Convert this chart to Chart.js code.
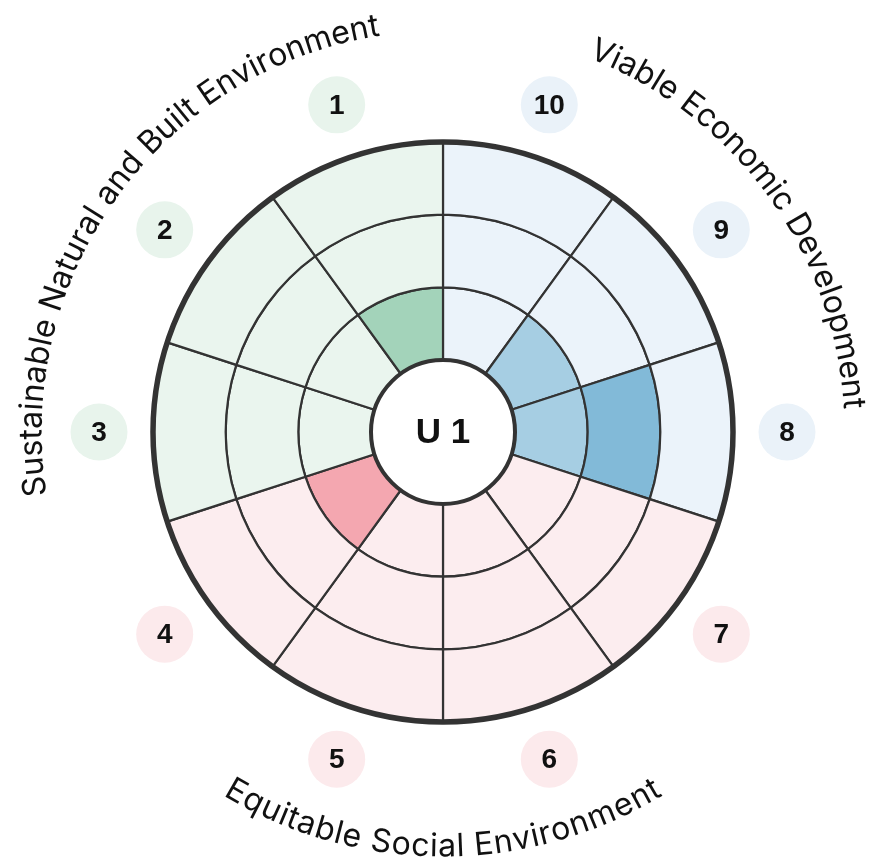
<!DOCTYPE html>
<html>
<head>
<meta charset="utf-8">
<script src="https://cdn.jsdelivr.net/npm/chart.js@4.4.1/dist/chart.umd.min.js"></script>
<style>
html,body{margin:0;padding:0;background:#ffffff;}
#wrap{width:870px;height:866px;position:relative;}
</style>
</head>
<body>
<div id="wrap"><canvas id="c"></canvas></div>
<script>
// ---- data ----
const criteria = ['1','2','3','4','5','6','7','8','9','10'];
const criterionGroup = [0,0,0,1,1,1,1,2,2,2];
const scores = [1,0,0,1,0,0,0,2,1,0];
const levels = 3;
const groupNames = ['Sustainable Natural and Built Environment','Equitable Social Environment','Viable Economic Development'];
const centerLabel = 'U 1';

// ---- styles ----
const groupBase = ['#EAF5EE','#FCEDEF','#EBF3FA'];
const groupLevelColors = [
  ['#A3D3BA','#7DC3A0','#57B286'],
  ['#F4A7B0','#EE8491','#E66172'],
  ['#A6CEE3','#82BAD8','#5FA5CC']
];
const badgeColors = ['#E8F4EC','#FCEAEC','#EAF2F9'];

// clockwise from top: 10, 9, ..., 1
const order = criteria.map((_, i) => criteria.length - 1 - i);

function cellColor(i, level) {
  const g = criterionGroup[i];
  return scores[i] >= level ? groupLevelColors[g][level - 1] : groupBase[g];
}

const datasets = [];
for (let L = levels; L >= 1; L--) {
  datasets.push({
    label: 'Level ' + L,
    data: order.map(() => 1),
    backgroundColor: order.map(i => cellColor(i, L)),
    borderColor: '#333333',
    borderWidth: 2.2,
    hoverOffset: 0
  });
}

function arcText(ctx, text, cx, cy, rMid, aCenter, bottom, capH, spacing) {
  const chars = Array.from(text);
  const widths = chars.map(ch => ctx.measureText(ch).width + spacing);
  const total = widths.reduce((s, w) => s + w, 0) - spacing;
  let adv = 0;
  chars.forEach((ch, k) => {
    const w = widths[k] - spacing;
    const d = (adv + w / 2) / rMid;
    const a = bottom ? aCenter + total / (2 * rMid) - d : aCenter - total / (2 * rMid) + d;
    ctx.save();
    ctx.translate(cx + Math.cos(a) * rMid, cy + Math.sin(a) * rMid);
    ctx.rotate(bottom ? a - Math.PI / 2 : a + Math.PI / 2);
    ctx.fillText(ch, 0, capH / 2);
    ctx.restore();
    adv += widths[k];
  });
}

const decor = {
  id: 'decor',
  afterDatasetsDraw(chart) {
    const ctx = chart.ctx;
    const outer = chart.getDatasetMeta(0).data;
    const inner = chart.getDatasetMeta(chart.data.datasets.length - 1).data;
    const cx = outer[0].x, cy = outer[0].y;
    const R = outer[0].outerRadius, r0 = inner[0].innerRadius;
    ctx.save();
    // outer thick border
    ctx.beginPath(); ctx.arc(cx, cy, R, 0, Math.PI * 2);
    ctx.lineWidth = 5.5; ctx.strokeStyle = '#333333'; ctx.stroke();
    // hole
    ctx.beginPath(); ctx.arc(cx, cy, r0, 0, Math.PI * 2);
    ctx.fillStyle = '#ffffff'; ctx.fill();
    ctx.lineWidth = 4; ctx.stroke();
    ctx.fillStyle = '#111111';
    ctx.font = 'bold 35px "Liberation Sans", Arial, sans-serif';
    ctx.textAlign = 'center'; ctx.textBaseline = 'middle';
    ctx.fillText(centerLabel, cx, cy + 1);
    // badges
    outer.forEach((arc, k) => {
      const i = order[k]; const g = criterionGroup[i];
      const mid = (arc.startAngle + arc.endAngle) / 2;
      const bx = cx + Math.cos(mid) * (R + 54), by = cy + Math.sin(mid) * (R + 54);
      ctx.beginPath(); ctx.arc(bx, by, 28.5, 0, Math.PI * 2);
      ctx.fillStyle = badgeColors[g]; ctx.fill();
      ctx.fillStyle = '#111111';
      ctx.font = 'bold 28px "Liberation Sans", Arial, sans-serif';
      ctx.fillText(criteria[i], bx, by + 1);
    });
    // group labels along arcs
    ctx.font = '400 32px Inter, "Noto Sans", sans-serif';
    ctx.textAlign = 'center'; ctx.textBaseline = 'alphabetic';
    ctx.fillStyle = '#111111';
    groupNames.forEach((name, g) => {
      let sx = 0, sy = 0, n = 0;
      outer.forEach((arc, k) => {
        if (criterionGroup[order[k]] === g) {
          const m = (arc.startAngle + arc.endAngle) / 2;
          sx += Math.cos(m); sy += Math.sin(m); n++;
        }
      });
      const aC = Math.atan2(sy / n, sx / n);
      const bottom = Math.sin(aC) > 0.2;
      arcText(ctx, name, cx, cy, R + 123, aC, bottom, 23, 0.4);
    });
    ctx.restore();
  }
};

new Chart(document.getElementById('c'), {
  type: 'doughnut',
  data: { labels: order.map(i => criteria[i]), datasets },
  options: {
    responsive: true,
    maintainAspectRatio: false,
    animation: false,
    events: [],
    radius: 290,
    cutout: '24.83%',
    rotation: 0,
    layout: { padding: { left: 96, right: 80, top: 90, bottom: 92 } },
    plugins: { legend: { display: false }, tooltip: { enabled: false }, title: { display: false } }
  },
  plugins: [decor]
});
</script>
</body>
</html>
